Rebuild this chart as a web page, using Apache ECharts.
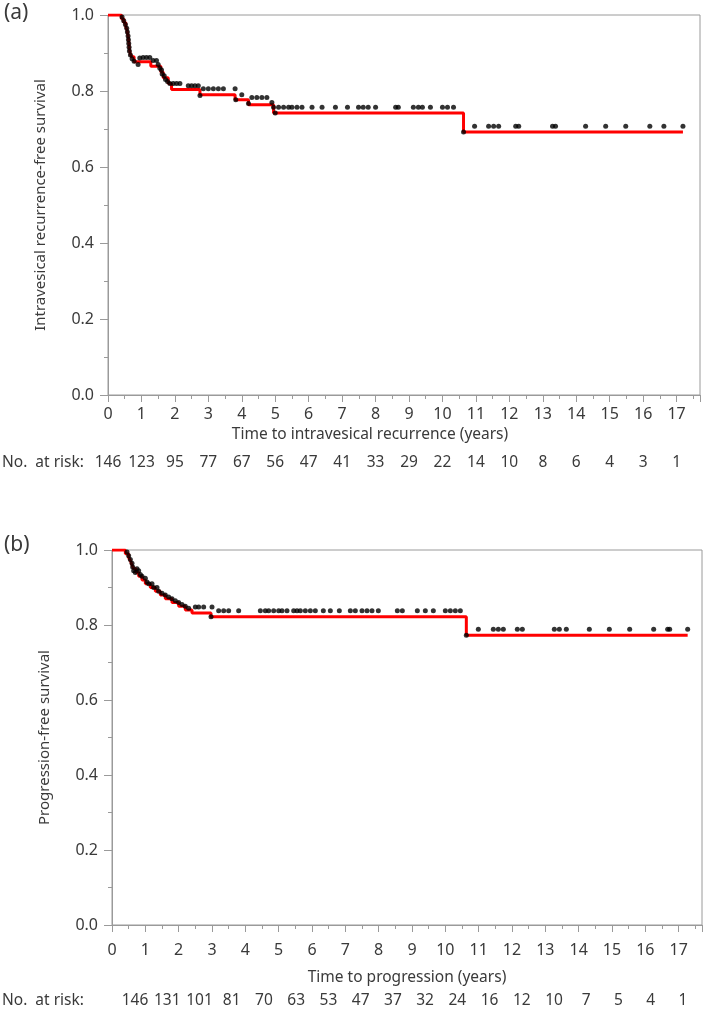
<!DOCTYPE html>
<html>
<head>
<meta charset="utf-8">
<script src="https://cdn.jsdelivr.net/npm/echarts@6/dist/echarts.min.js"></script>
<style>
html,body{margin:0;padding:0;background:#fff;}
#chart{width:709px;height:1010px;}
</style>
</head>
<body>
<div id="chart"></div>
<script>
// ---------- Data ----------
const xTicks = [0,1,2,3,4,5,6,7,8,9,10,11,12,13,14,15,16,17];
const yTicks = [0.0,0.2,0.4,0.6,0.8,1.0];

// (a) intravesical recurrence-free survival: step times and survival after each step
const aTimes = [0,0.40,0.47,0.53,0.57,0.59,0.61,0.62,0.63,0.64,0.66,0.70,0.78,1.28,1.58,1.65,1.80,1.90,2.75,3.80,4.20,4.95,10.63,17.19];
const aSurv  = [1.0,0.99,0.98,0.97,0.96,0.95,0.94,0.93,0.92,0.91,0.90,0.89,0.877,0.865,0.85,0.835,0.82,0.804,0.79,0.777,0.764,0.742,0.692,0.692];
const aMarkT = [0.42,0.47,0.52,0.56,0.58,0.60,0.61,0.62,0.63,0.64,0.67,0.72,0.78,0.90,0.95,1.05,1.15,1.25,1.35,1.45,1.50,1.55,1.60,1.62,1.68,1.72,1.78,1.85,1.95,2.05,2.15,2.40,2.50,2.60,2.70,2.75,2.85,3.00,3.15,3.30,3.45,3.80,3.82,4.00,4.20,4.30,4.45,4.60,4.75,4.90,4.95,5.00,5.10,5.25,5.40,5.50,5.65,5.80,6.10,6.40,6.80,7.16,7.49,7.63,7.78,8.00,8.60,8.68,9.13,9.28,9.40,9.64,10.00,10.15,10.33,10.63,10.96,11.38,11.53,11.68,12.19,12.28,13.29,13.38,14.28,14.88,15.48,16.20,16.62,17.19];
const aMarkS = [0.995,0.985,0.975,0.965,0.955,0.945,0.935,0.925,0.915,0.905,0.895,0.885,0.878,0.870,0.887,0.888,0.888,0.888,0.880,0.880,0.870,0.860,0.855,0.845,0.840,0.830,0.825,0.820,0.820,0.820,0.820,0.814,0.814,0.814,0.814,0.788,0.806,0.806,0.806,0.806,0.806,0.806,0.777,0.790,0.767,0.783,0.783,0.783,0.783,0.770,0.757,0.742,0.757,0.757,0.757,0.757,0.757,0.757,0.757,0.757,0.757,0.757,0.757,0.757,0.757,0.757,0.757,0.757,0.757,0.757,0.757,0.757,0.757,0.757,0.757,0.692,0.707,0.707,0.707,0.707,0.707,0.707,0.707,0.707,0.707,0.707,0.707,0.707,0.707,0.707];
const aAtRisk = [146,123,95,77,67,56,47,41,33,29,22,14,10,8,6,4,3,1];

// (b) progression-free survival
const bTimes = [0,0.40,0.50,0.56,0.60,0.65,0.72,0.80,0.90,1.00,1.15,1.30,1.45,1.60,1.80,2.00,2.20,2.40,2.97,10.63,17.27];
const bSurv  = [1.0,0.99,0.98,0.97,0.96,0.95,0.94,0.93,0.92,0.91,0.90,0.89,0.88,0.87,0.86,0.85,0.84,0.832,0.822,0.773,0.773];
const bMarkT = [0.45,0.50,0.55,0.60,0.62,0.65,0.70,0.75,0.80,0.85,0.90,1.00,1.05,1.10,1.20,1.25,1.35,1.40,1.50,1.60,1.70,1.80,1.90,2.00,2.10,2.20,2.30,2.50,2.60,2.75,2.97,3.00,3.20,3.35,3.50,3.80,4.45,4.60,4.70,4.85,5.00,5.10,5.25,5.45,5.55,5.65,5.80,5.95,6.10,6.34,6.55,6.82,7.15,7.30,7.50,7.65,7.80,7.99,8.56,8.71,9.16,9.40,9.64,10.00,10.15,10.30,10.45,10.63,10.99,11.44,11.59,11.74,12.16,12.31,13.27,13.42,13.63,14.32,14.92,15.53,16.25,16.67,16.73,17.27];
const bMarkS = [0.995,0.985,0.975,0.965,0.955,0.945,0.940,0.950,0.945,0.935,0.930,0.925,0.915,0.910,0.910,0.900,0.900,0.890,0.885,0.880,0.875,0.870,0.865,0.860,0.855,0.850,0.845,0.848,0.848,0.848,0.822,0.848,0.838,0.838,0.838,0.838,0.838,0.838,0.838,0.838,0.838,0.838,0.838,0.838,0.838,0.838,0.838,0.838,0.838,0.838,0.838,0.838,0.838,0.838,0.838,0.838,0.838,0.838,0.838,0.838,0.838,0.838,0.838,0.838,0.838,0.838,0.838,0.773,0.789,0.789,0.789,0.789,0.789,0.789,0.789,0.789,0.789,0.789,0.789,0.789,0.789,0.789,0.789,0.789];
const bAtRisk = [146,131,101,81,70,63,53,47,37,32,24,16,12,10,7,5,4,1];

// ---------- Build ----------
const zip = (t, s) => t.map((v, i) => [v, s[i]]);
const FONT = '"Noto Sans", "Open Sans", sans-serif';
const TXT = '#3a3a3a';
const AX = '#9a9a9a';
const X_MAX = 17.7;

function xAxisMain(gridIndex, margin) {
  return {
    type: 'value', gridIndex, min: 0, max: X_MAX, interval: 1,
    axisLine: { show: true, lineStyle: { color: AX, width: 1 } },
    axisTick: { show: true, length: 7, lineStyle: { color: AX } },
    minorTick: { show: true, splitNumber: 2, length: 4, lineStyle: { color: AX } },
    splitLine: { show: false },
    axisLabel: { fontFamily: FONT, fontSize: 16, color: TXT, margin,
      formatter: v => (xTicks.indexOf(v) >= 0 ? String(v) : '') }
  };
}
function yAxisMain(gridIndex, name) {
  return {
    type: 'value', gridIndex, min: 0, max: 1, interval: 0.2,
    name, nameLocation: 'middle', nameGap: 60,
    nameTextStyle: { fontFamily: FONT, fontSize: 15, color: TXT },
    axisLine: { show: true, lineStyle: { color: AX, width: 1 } },
    axisTick: { show: true, length: 8, lineStyle: { color: AX } },
    minorTick: { show: true, splitNumber: 2, length: 4, lineStyle: { color: AX } },
    splitLine: { show: false },
    axisLabel: { fontFamily: FONT, fontSize: 16, color: TXT, margin: 14,
      formatter: v => (yTicks.some(t => Math.abs(t - v) < 1e-9) ? v.toFixed(1) : '') }
  };
}
function atRiskAxis(gridIndex, arr) {
  return {
    type: 'value', gridIndex, min: 0, max: 17, interval: 1,
    axisLine: { show: false }, axisTick: { show: false }, splitLine: { show: false },
    axisLabel: { fontFamily: FONT, fontSize: 15.5, color: TXT, margin: 2,
      showMinLabel: true, showMaxLabel: true,
      formatter: v => (arr[v] !== undefined ? String(arr[v]) : '') }
  };
}
function hiddenY(gridIndex) {
  return { type: 'value', gridIndex, show: false, min: 0, max: 1 };
}

const option = {
  animation: false,
  backgroundColor: '#fff',
  grid: [
    { left: 108, top: 15, width: 592, height: 380, show: true, borderColor: AX, borderWidth: 1, backgroundColor: 'transparent' },
    { left: 112, top: 550, width: 590, height: 375, show: true, borderColor: AX, borderWidth: 1, backgroundColor: 'transparent' },
    { left: 108, top: 452, width: 568.6, height: 1, show: false },
    { left: 135, top: 990, width: 548, height: 1, show: false }
  ],
  xAxis: [ xAxisMain(0, 11), xAxisMain(1, 17), atRiskAxis(2, aAtRisk), atRiskAxis(3, bAtRisk) ],
  yAxis: [ yAxisMain(0, 'Intravesical recurrence-free survival'), yAxisMain(1, 'Progression-free survival'), hiddenY(2), hiddenY(3) ],
  series: [
    { type: 'line', xAxisIndex: 0, yAxisIndex: 0, step: 'end', data: zip(aTimes, aSurv),
      symbol: 'none', lineStyle: { color: '#ff0000', width: 3 }, z: 2 },
    { type: 'scatter', xAxisIndex: 0, yAxisIndex: 0, data: zip(aMarkT, aMarkS),
      symbolSize: 5, itemStyle: { color: '#000' }, z: 3 },
    { type: 'line', xAxisIndex: 1, yAxisIndex: 1, step: 'end', data: zip(bTimes, bSurv),
      symbol: 'none', lineStyle: { color: '#ff0000', width: 3 }, z: 2 },
    { type: 'scatter', xAxisIndex: 1, yAxisIndex: 1, data: zip(bMarkT, bMarkS),
      symbolSize: 5, itemStyle: { color: '#000' }, z: 3 }
  ],
  graphic: [
    { type: 'text', left: 4, top: 3, style: { text: '(a)', font: '21px ' + FONT, fill: TXT } },
    { type: 'text', left: 4, top: 535, style: { text: '(b)', font: '21px ' + FONT, fill: TXT } },
    { type: 'text', x: 370, y: 435, style: { text: 'Time to intravesical recurrence (years)', font: '15.5px ' + FONT, fill: TXT, align: 'center', verticalAlign: 'middle' } },
    { type: 'text', x: 407, y: 978, style: { text: 'Time to progression (years)', font: '15.5px ' + FONT, fill: TXT, align: 'center', verticalAlign: 'middle' } },
    { type: 'text', x: 2, y: 463, style: { text: 'No.  at risk:', font: '15.5px ' + FONT, fill: TXT, align: 'left', verticalAlign: 'middle' } },
    { type: 'text', x: 2, y: 1001, style: { text: 'No.  at risk:', font: '15.5px ' + FONT, fill: TXT, align: 'left', verticalAlign: 'middle' } }
  ]
};

const chart = echarts.init(document.getElementById('chart'), null, { renderer: 'canvas' });
chart.setOption(option);
</script>
</body>
</html>
